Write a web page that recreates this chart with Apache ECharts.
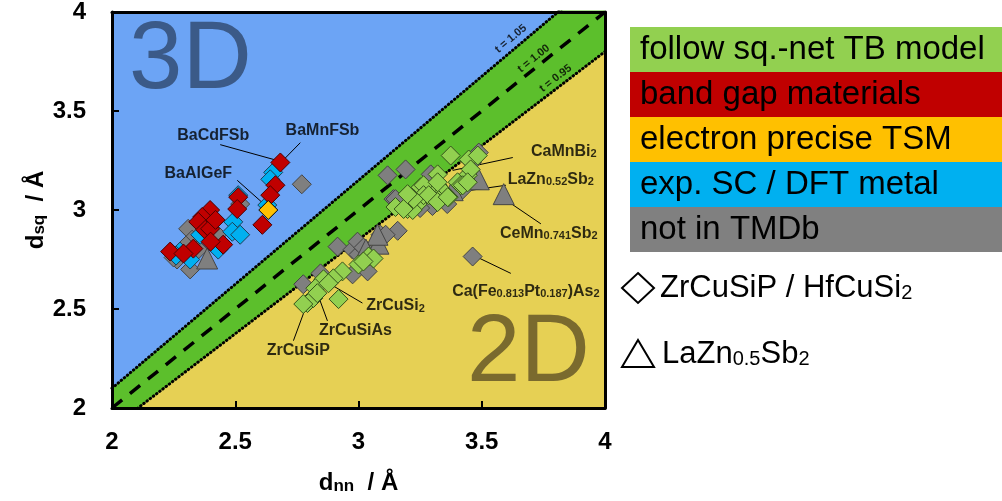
<!DOCTYPE html>
<html><head><meta charset="utf-8">
<script src="https://cdn.jsdelivr.net/npm/echarts@6/dist/echarts.min.js"></script>
<style>html,body{margin:0;padding:0;background:#fff}#c{width:1002px;height:501px}</style>
</head><body><div id="c"></div>
<script>
const FONT = '"Liberation Sans", Arial, sans-serif';

// axis ticks
const xTicks = [2, 2.5, 3, 3.5, 4];
const yTicks = [2, 2.5, 3, 3.5, 4];

// tolerance factor lines t = d_sq / d_nn
const lineT105 = [[2, 2.1], [4, 4.2]];
const lineT100 = [[2, 2.0], [4, 4.0]];
const lineT095 = [[2, 1.9], [4, 3.8]];
const lineLabelTexts = ['t = 1.05', 't = 1.00', 't = 0.95'];
const lineLabelPos = [[3.618, 3.865], [3.711, 3.765], [3.800, 3.665]];

// data: [d_nn, d_sq]
const grayDiamonds = [
  [2.317,2.70],[2.309,2.905],[2.325,2.85],[2.52,3.03],[2.264,2.75],[2.427,2.875],[2.30,2.82],[2.35,2.80],[2.25,2.76],
  [2.77,3.13],
  [3.191,3.205],[3.118,3.175],[3.142,3.055],[3.159,2.895],[3.089,2.875],[2.776,2.625],[2.976,2.675],
  [3.463,2.765],[3.293,3.18],[3.488,3.29],[3.15,3.055],
  [2.915,2.815],[2.976,2.80],[3.0,2.775],[3.037,2.69],[2.846,2.68],[2.996,2.84],[3.11,2.875],[3.02,2.81],
  [3.30,3.02],[3.36,3.03],[3.42,3.10],[3.25,3.01],[3.46,3.24]
];
const grayTriangles = [[2.386,2.755],[3.589,3.08],[3.382,3.10],[3.081,2.83],[3.488,3.155],[3.077,2.875],[3.03,2.80]];
const cyanPts = [
  [2.654,3.19],[2.642,3.155],[2.63,3.025],[2.512,3.075],[2.492,2.94],[2.488,2.89],[2.52,2.875],
  [2.431,2.80],[2.317,2.75],[2.276,2.79],[2.358,2.875],[2.26,2.77]
];
const redPts = [
  [2.683,3.24],[2.663,3.125],[2.642,3.075],[2.610,2.925],[2.512,3.065],[2.508,3.005],[2.398,3.00],
  [2.366,2.965],[2.350,2.94],[2.378,2.90],[2.236,2.79],[2.33,2.805],[2.398,2.905],[2.451,2.825],
  [2.42,2.95],[2.29,2.78],[2.40,2.84]
];
const orangePts = [[2.634,3.00]];
const greenPts = [
  [3.374,3.275],[3.447,3.255],[3.484,3.275],[3.321,3.18],[3.443,3.175],[3.455,3.205],[3.252,3.115],
  [3.321,3.125],[3.402,3.14],[3.264,3.125],[3.346,3.09],[3.415,3.125],[3.199,3.005],[3.24,3.03],
  [3.264,3.075],[3.325,3.05],[3.423,3.125],[3.15,3.015],[3.22,3.0],[3.366,3.065],[3.224,3.055],
  [3.183,3.005],[3.285,3.075],[3.199,3.08],[3.321,3.04],[3.362,3.065],[3.443,3.14],[3.321,3.14],
  [3.041,2.765],[3.0,2.725],[2.935,2.69],[2.898,2.655],[2.858,2.65],[2.825,2.605],[2.793,2.53],
  [2.817,2.555],[2.919,2.55],[3.061,2.755],[3.02,2.74],[2.776,2.525],[2.833,2.58],[2.878,2.63]
];

// annotations
const annotTexts = ['BaCdFSb','BaMnFSb','BaAlGeF','CaMnBi{s|2}','LaZn{s|0.52}Sb{s|2}','CeMn{s|0.741}Sb{s|2}',
  'Ca(Fe{s|0.813}Pt{s|0.187})As{s|2}','ZrCuSi{s|2}','ZrCuSiAs','ZrCuSiP'];
const annotPos = [[2.411,3.375],[2.854,3.40],[2.35,3.185],[3.833,3.295],[3.78,3.155],[3.772,2.88],
  [3.679,2.59],[3.15,2.515],[2.988,2.39],[2.756,2.29]];
const arrowFrom = [[2.439,3.33],[2.764,3.34],[2.508,3.15],[3.626,3.265],[3.598,3.125],[3.74,2.93],
  [3.618,2.68],[3.016,2.53],[2.874,2.44],[2.736,2.34]];
const arrowTo = [[2.671,3.25],[2.654,3.20],[2.630,3.015],[3.382,3.20],[3.402,3.09],[3.598,3.05],
  [3.476,2.765],[2.886,2.625],[2.833,2.58],[2.785,2.505]];

// legend
const legendItems = ['follow sq.-net TB model','band gap materials','electron precise TSM','exp. SC / DFT metal','not in TMDb'];
const legendColors = ['#92D050','#C00000','#FFC000','#00B0F0','#808080'];

const chart = echarts.init(document.getElementById('c'), null, {renderer:'canvas'});

function frameAxis(pos) {
  return {
    type:'value', position:pos, min:2, max:4, interval:0.5, z:10,
    axisLine:{show:true, onZero:false, lineStyle:{color:'#000', width:3}},
    axisTick:{show:false}, axisLabel:{show:false}, splitLine:{show:false}
  };
}

const pointSeries = (name, data, color, border, symbol, size) => ({
  type:'scatter', name, data, symbol, symbolSize:size, z:5,
  itemStyle:{color, borderColor:border, borderWidth:1, opacity:1}
});

const graphic = [];
legendItems.forEach((t, i) => {
  graphic.push({type:'rect', shape:{x:630, y:27 + i*45, width:372, height:45}, style:{fill:legendColors[i]}});
  graphic.push({type:'text', x:640, y:50 + i*45, style:{text:t, fill:'#000', fontSize:33, fontFamily:FONT, verticalAlign:'middle'}});
});
graphic.push({type:'polygon', shape:{points:[[638,273],[654,288],[638,303],[622,288]]}, style:{fill:'none', stroke:'#000', lineWidth:2}});
graphic.push({type:'text', x:660, y:288, style:{text:'ZrCuSiP / HfCuSi{s|2}', fill:'#000', fontSize:31, fontFamily:FONT, verticalAlign:'middle',
  rich:{s:{fontSize:20, fontFamily:FONT, lineHeight:10, verticalAlign:'bottom', fill:'#000'}}}});
graphic.push({type:'polygon', shape:{points:[[638,340],[654,367],[622,367]]}, style:{fill:'none', stroke:'#000', lineWidth:2}});
graphic.push({type:'text', x:662, y:354, style:{text:'LaZn{s|0.5}Sb{s|2}', fill:'#000', fontSize:31, fontFamily:FONT, verticalAlign:'middle',
  rich:{s:{fontSize:20, fontFamily:FONT, lineHeight:10, verticalAlign:'bottom', fill:'#000'}}}});
graphic.push({type:'text', x:129, y:62, z:3, style:{text:'3D', fill:'#3B5A88', fontSize:96, fontFamily:FONT, verticalAlign:'middle'}});
graphic.push({type:'text', x:467, y:355, z:3, style:{text:'2D', fill:'#7A6A2E', fontSize:96, fontFamily:FONT, verticalAlign:'middle'}});

const option = {
  animation:false,
  backgroundColor:'#fff',
  grid:{left:112, right:397, top:8, bottom:93, show:true, backgroundColor:'#6CA4F5', borderWidth:0},
  xAxis:[{
    type:'value', min:xTicks[0], max:xTicks[xTicks.length-1], interval:0.5, z:10,
    axisLine:{show:true, onZero:false, lineStyle:{color:'#000', width:3}},
    axisTick:{show:true, inside:true, length:7, lineStyle:{color:'#000', width:2}},
    splitLine:{show:false},
    axisLabel:{color:'#000', fontSize:24, fontWeight:'bold', fontFamily:FONT, margin:22},
    name:'{a|d}{s|nn}{a|  / Å}', nameLocation:'middle', nameGap:63,
    nameTextStyle:{color:'#000', rich:{
      a:{fontSize:24, fontWeight:'bold', fontFamily:FONT, color:'#000'},
      s:{fontSize:17, fontWeight:'bold', fontFamily:FONT, color:'#000', lineHeight:6, verticalAlign:'bottom'}}}
  }, frameAxis('top')],
  yAxis:[{
    type:'value', min:yTicks[0], max:yTicks[yTicks.length-1], interval:0.5, z:10,
    axisLine:{show:true, onZero:false, lineStyle:{color:'#000', width:3}},
    axisTick:{show:true, inside:true, length:7, lineStyle:{color:'#000', width:2}},
    splitLine:{show:false},
    axisLabel:{color:'#000', fontSize:24, fontWeight:'bold', fontFamily:FONT, margin:26},
    name:'{a|d}{s|sq}{a|  / Å}', nameLocation:'middle', nameGap:64, nameRotate:90,
    nameTextStyle:{color:'#000', rich:{
      a:{fontSize:24, fontWeight:'bold', fontFamily:FONT, color:'#000'},
      s:{fontSize:17, fontWeight:'bold', fontFamily:FONT, color:'#000', lineHeight:6, verticalAlign:'bottom'}}}
  }, frameAxis('right')],
  series:[
    {type:'line', data:lineT105, symbol:'none', z:1, silent:true,
     lineStyle:{color:'#000', width:3, type:[0.5,3.5], cap:'round'},
     areaStyle:{color:'#5CBF2C', origin:'start', opacity:1}},
    {type:'line', data:lineT095, symbol:'none', z:1, silent:true,
     lineStyle:{color:'#000', width:3, type:[0.5,3.5], cap:'round'},
     areaStyle:{color:'#E6D054', origin:'start', opacity:1}},
    {type:'line', data:lineT100, symbol:'none', z:1, silent:true,
     lineStyle:{color:'#000', width:3.5, type:[13,10]}},
    {type:'scatter', data:lineLabelPos.map((p,i)=>({value:p, label:{formatter:lineLabelTexts[i], rotate:[40,39,38][i]}})),
     symbolSize:1, itemStyle:{color:'transparent'}, z:2, silent:true,
     label:{show:true, position:'inside', color:'#000', fontSize:11, fontWeight:'bold', fontFamily:FONT}},
    pointSeries('gray', grayDiamonds, '#7F7F7F', '#444', 'diamond', 19),
    pointSeries('grayTri', grayTriangles, '#7F7F7F', '#444', 'triangle', 21),
    pointSeries('cyan', cyanPts, '#00B0F0', '#1d3f55', 'diamond', 19),
    pointSeries('red', redPts, '#C00000', '#4a0000', 'diamond', 19),
    pointSeries('orange', orangePts, '#FFC000', '#000', 'diamond', 19),
    pointSeries('green', greenPts, '#92D050', '#35521c', 'diamond', 19),
    {type:'scatter', data:annotPos.map((p,i)=>({value:p, label:{formatter:annotTexts[i]}})),
     symbolSize:1, itemStyle:{color:'transparent'}, z:8, silent:true,
     label:{show:true, position:'inside', color:'#000', fontSize:16, fontWeight:'bold', fontFamily:FONT,
       rich:{s:{fontSize:11, fontWeight:'bold', fontFamily:FONT, color:'#000', lineHeight:4, verticalAlign:'bottom'}}},
     markLine:{silent:true, symbol:['none','arrow'], symbolSize:[0,9], animation:false,
       lineStyle:{color:'#000', width:1, type:'solid'}, label:{show:false},
       data:arrowFrom.map((f,i)=>[{coord:f},{coord:arrowTo[i]}])}}
  ],
  graphic
};
chart.setOption(option);
</script></body></html>
